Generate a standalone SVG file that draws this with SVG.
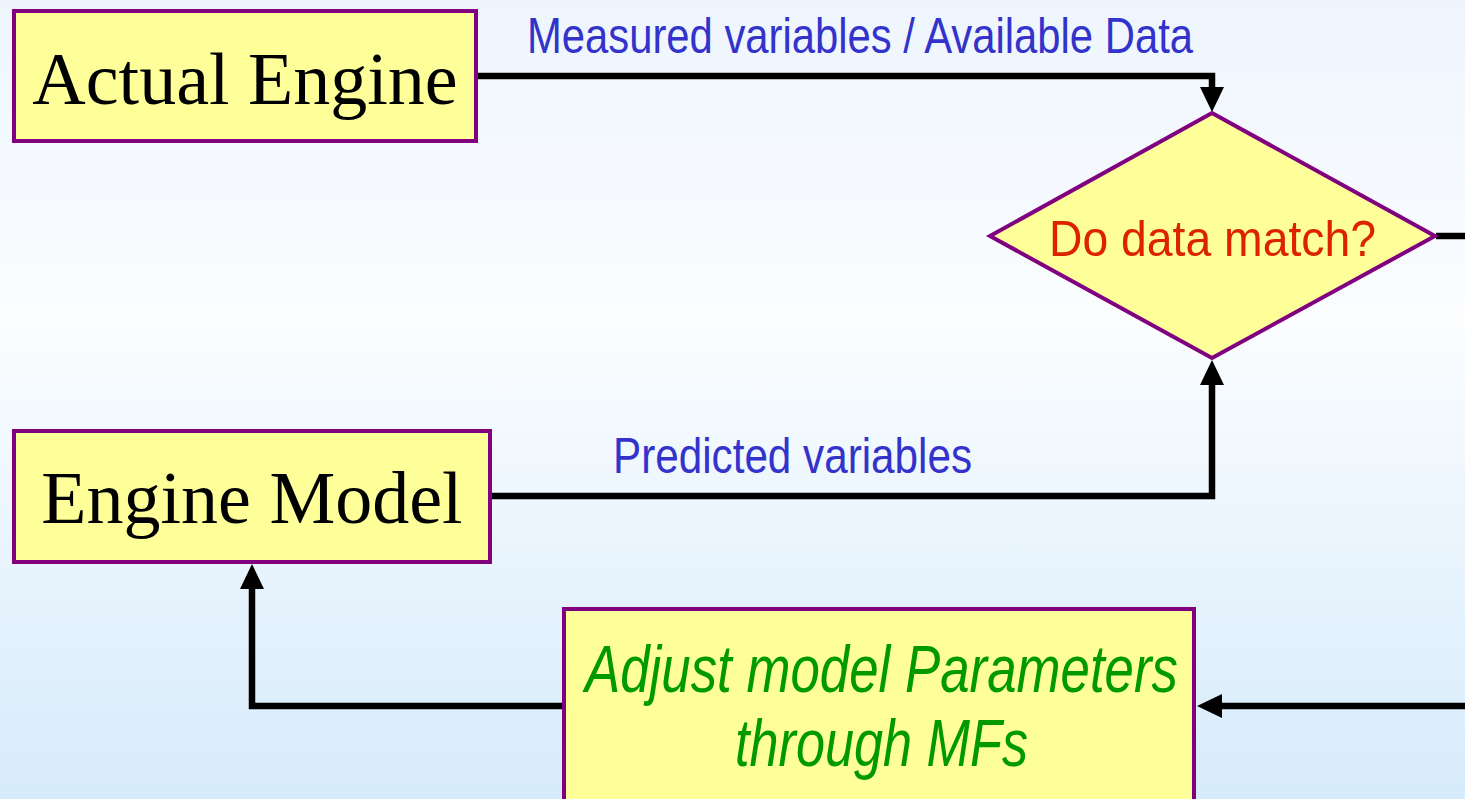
<svg xmlns="http://www.w3.org/2000/svg" width="1465" height="799" viewBox="0 0 1465 799">
  <defs>
    <linearGradient id="bg" x1="0" y1="0" x2="0" y2="1">
      <stop offset="0" stop-color="#eef5fd"/>
      <stop offset="0.4" stop-color="#fbfdff"/>
      <stop offset="1" stop-color="#d6ebfb"/>
    </linearGradient>
    <marker id="arrow" markerUnits="userSpaceOnUse" markerWidth="26" markerHeight="26" refX="0" refY="12" orient="auto" viewBox="0 0 26 24">
      <path d="M0,0 L25,12 L0,24 z" fill="#000"/>
    </marker>
    <style>
      .box { fill: #ffff99; stroke: #800080; stroke-width: 4; }
      .conn { fill: none; stroke: #000; stroke-width: 6.5; stroke-linejoin: miter; }
      .serif { font-family: "Liberation Serif", "Times New Roman", serif; font-size: 74px; fill: #000; }
      .narrow { font-family: "Liberation Sans Narrow", "Liberation Sans", Arial, sans-serif; }
      .lbl { fill: #3333cc; font-size: 50px; }
      .q { fill: #dd2200; font-size: 50px; }
      .adj { fill: #009900; font-size: 66px; font-style: italic; }
    </style>
  </defs>
  <rect width="1465" height="799" fill="url(#bg)"/>

  <g id="connectors">
    <path class="conn" d="M478,76 H1212 V87" marker-end="url(#arrow)"/>
    <path class="conn" d="M492,496 H1212 V385" marker-end="url(#arrow)"/>
    <path class="conn" d="M1436,236 H1465"/>
    <path class="conn" d="M1465,706 H1222" marker-end="url(#arrow)"/>
    <path class="conn" d="M562,706 H252 V589" marker-end="url(#arrow)"/>
    <text class="narrow lbl" x="527" y="53" textLength="666" lengthAdjust="spacingAndGlyphs">Measured variables / Available Data</text>
    <text class="narrow lbl" x="613" y="473" font-size="48" textLength="359" lengthAdjust="spacingAndGlyphs">Predicted variables</text>
  </g>

  <g id="actual-engine">
    <rect class="box" x="14" y="11" width="462" height="130"/>
    <text class="serif" x="245" y="104" text-anchor="middle">Actual Engine</text>
  </g>

  <g id="engine-model">
    <rect class="box" x="14" y="431" width="476" height="131"/>
    <text class="serif" x="252" y="523" text-anchor="middle">Engine Model</text>
  </g>

  <g id="decision">
    <polygon class="box" points="1212,113 1435,236 1212,358 990,236"/>
    <text class="narrow q" x="1049" y="256" textLength="327" lengthAdjust="spacingAndGlyphs">Do data match?</text>
  </g>

  <g id="adjust">
    <rect class="box" x="564" y="609" width="630" height="200"/>
    <text class="narrow adj" x="585" y="692" textLength="593" lengthAdjust="spacingAndGlyphs">Adjust model Parameters</text>
    <text class="narrow adj" x="735" y="766" textLength="293" lengthAdjust="spacingAndGlyphs">through MFs</text>
  </g>
</svg>
